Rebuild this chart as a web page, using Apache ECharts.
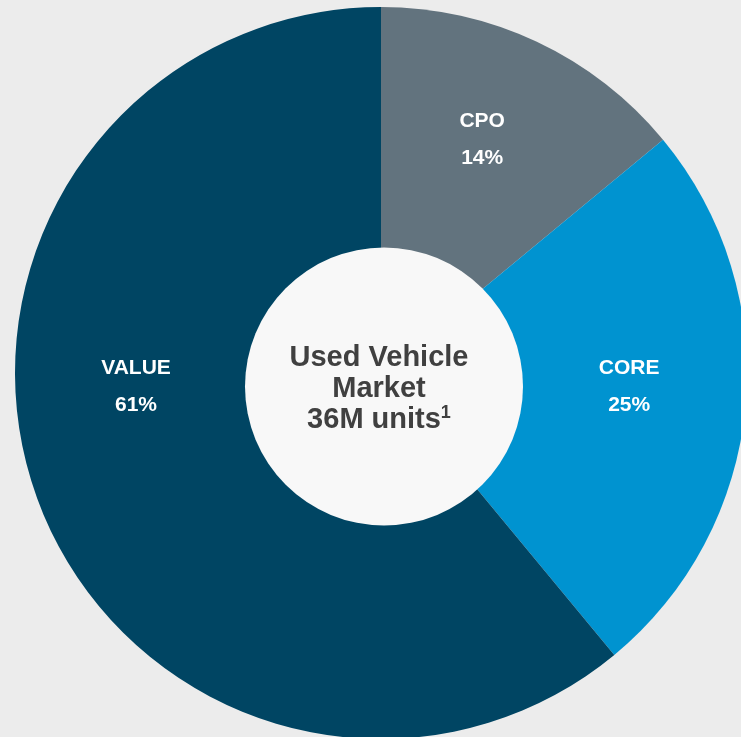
<!DOCTYPE html>
<html>
<head>
<meta charset="utf-8">
<title>Used Vehicle Market</title>
<script src="https://cdn.jsdelivr.net/npm/echarts@6/dist/echarts.min.js"></script>
<style>
  html, body { margin: 0; padding: 0; background: #ececec; }
  #chart { width: 741px; height: 737px; }
</style>
</head>
<body>
<div id="chart"></div>
<script>
// Segments of the used vehicle market, share in percent
const segments = ['CPO', 'CORE', 'VALUE'];
const shares = [14, 25, 61];
const segmentColors = ['#62737e', '#0093d0', '#004563'];
// Label nudges away from the default inside position
const labelOffsets = [[22, -65], [63, -4], [-70, -49]];

const centerLines = ['Used Vehicle', 'Market', '36M units'];
const footnoteMark = '1';

const FONT = 'Arial, "Liberation Sans", Helvetica, sans-serif';

const chart = echarts.init(document.getElementById('chart'), null, { renderer: 'canvas' });

chart.setOption({
  backgroundColor: '#ececec',
  animation: false,
  series: [
    {
      type: 'pie',
      center: [381, 373],
      radius: [0, 366],
      startAngle: 90,
      clockwise: true,
      silent: true,
      label: {
        show: true,
        position: 'inside',
        fontFamily: FONT,
        formatter: '{n|{b}}\n{p|{c}%}',
        rich: {
          n: { color: '#ffffff', fontSize: 21, fontWeight: 'bold', fontFamily: FONT, lineHeight: 37 },
          p: { color: '#ffffff', fontSize: 21, fontWeight: 'bold', fontFamily: FONT, lineHeight: 37 }
        }
      },
      labelLine: { show: false },
      data: segments.map((name, i) => ({
        name: name,
        value: shares[i],
        itemStyle: { color: segmentColors[i] },
        label: { offset: labelOffsets[i] }
      }))
    },
    {
      type: 'pie',
      center: [384, 386.5],
      radius: [0, 139],
      silent: true,
      z: 5,
      label: {
        show: true,
        position: 'center',
        offset: [-5, 2],
        formatter: centerLines[0] + '\n' + centerLines[1] + '\n' + centerLines[2] + '{s|' + footnoteMark + '}',
        color: '#404040',
        fontFamily: FONT,
        fontSize: 29,
        fontWeight: 'bold',
        lineHeight: 31,
        rich: {
          s: { color: '#404040', fontFamily: FONT, fontSize: 18, fontWeight: 'bold', lineHeight: 14, verticalAlign: 'top' }
        }
      },
      labelLine: { show: false },
      itemStyle: { color: '#f8f8f8' },
      data: [{ name: 'market', value: 1 }]
    }
  ]
});
</script>
</body>
</html>
